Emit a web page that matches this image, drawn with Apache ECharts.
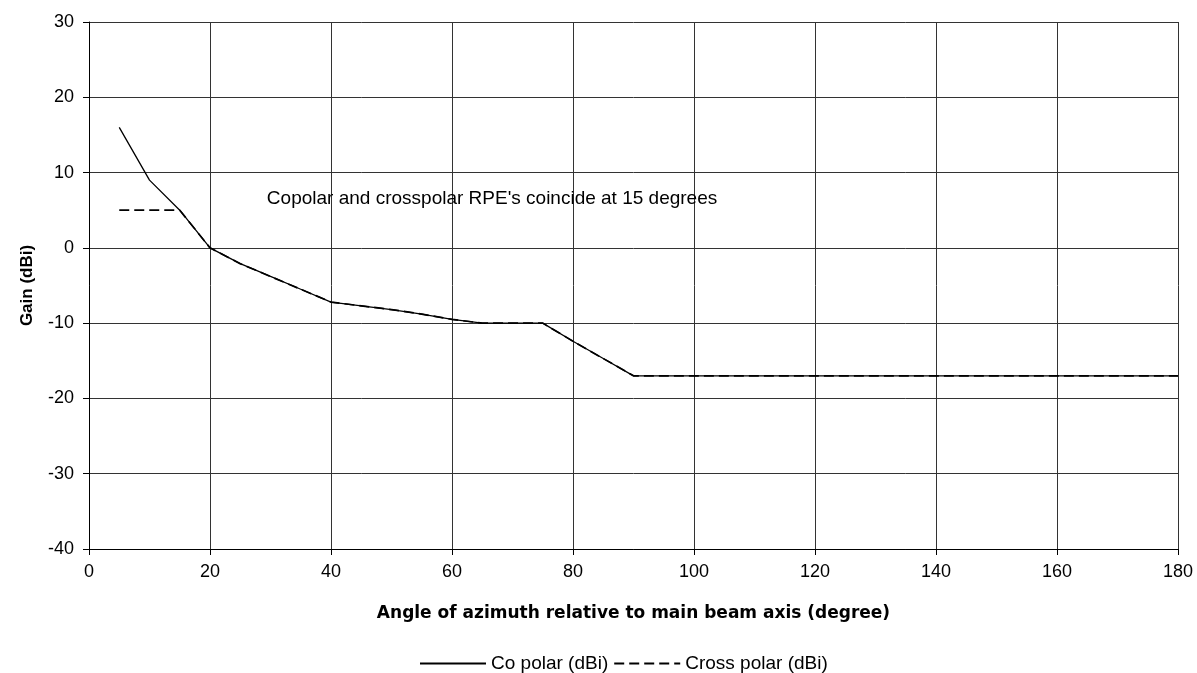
<!DOCTYPE html>
<html><head><meta charset="utf-8">
<script src="https://cdn.jsdelivr.net/npm/echarts@6/dist/echarts.min.js"></script>
<style>html,body{margin:0;padding:0;background:#fff}#c{width:1197px;height:673px}</style>
</head><body><div id="c"></div>
<script>
const angles   = [5, 10, 15, 20, 25, 30, 35, 40, 45, 50, 55, 60, 65, 70, 75, 80, 85, 90, 100, 120, 140, 160, 180];
const coPolar  = [16, 9, 5, 0, -2.1, -3.8, -5.5, -7.2, -7.7, -8.2, -8.8, -9.5, -10, -10, -10, -12.4, -14.7, -17, -17, -17, -17, -17, -17];
const crossAngles = [5, 15, 20, 25, 30, 35, 40, 45, 50, 55, 60, 65, 70, 75, 80, 85, 90, 100, 120, 140, 160, 180];
const crossPolar  = [5, 5, 0, -2.1, -3.8, -5.5, -7.2, -7.7, -8.2, -8.8, -9.5, -10, -10, -10, -12.4, -14.7, -17, -17, -17, -17, -17, -17];
const xTicks = [0, 20, 40, 60, 80, 100, 120, 140, 160, 180];
const yTicks = [-40, -30, -20, -10, 0, 10, 20, 30];
const annotation = "Copolar and crosspolar RPE's coincide at 15 degrees";
const annotationAt = [29.4, 6.5];

const font = 'Liberation Sans, Arial, sans-serif';
const chart = echarts.init(document.getElementById('c'), null, {renderer: 'canvas'});
chart.setOption({
  animation: false,
  backgroundColor: '#fff',
  grid: {left: 89, right: 19, top: 22, bottom: 124, containLabel: false, outerBoundsMode: 'none'},
  xAxis: {
    type: 'value', min: xTicks[0], max: xTicks[xTicks.length - 1], interval: 20,
    name: 'Angle of azimuth relative to main beam axis (degree)',
    nameLocation: 'middle', nameGap: 56,
    nameTextStyle: {fontFamily: 'DejaVu Sans, sans-serif', fontWeight: 'bold', fontSize: 17, color: '#000'},
    axisLine: {show: true, onZero: false, lineStyle: {color: '#000', width: 1}},
    axisTick: {show: true, inside: false, length: 6, lineStyle: {color: '#000'}},
    axisLabel: {fontFamily: font, fontSize: 18, color: '#000', margin: 14},
    splitLine: {show: true, lineStyle: {color: '#333', width: 1}}
  },
  yAxis: {
    type: 'value', min: yTicks[0], max: yTicks[yTicks.length - 1], interval: 10,
    name: 'Gain (dBi)', nameLocation: 'middle', nameGap: 53,
    nameTextStyle: {fontFamily: font, fontWeight: 'bold', fontSize: 17, color: '#000'},
    axisLine: {show: true, lineStyle: {color: '#000', width: 1}},
    axisTick: {show: true, inside: false, length: 6, lineStyle: {color: '#000'}},
    axisLabel: {fontFamily: font, fontSize: 18, color: '#000', margin: 15},
    splitLine: {show: true, lineStyle: {color: '#333', width: 1}}
  },
  legend: {
    top: 649, left: 414, itemWidth: 66, itemHeight: 10, itemGap: 5,
    itemStyle: {opacity: 0},
    textStyle: {fontFamily: font, fontSize: 19, color: '#000'},
    data: ['Co polar (dBi)', 'Cross polar (dBi)']
  },
  series: [
    {
      name: 'Co polar (dBi)', type: 'line', symbol: 'none', z: 3,
      data: angles.map((a, i) => [a, coPolar[i]]),
      lineStyle: {color: '#000', width: 1.3, type: 'solid'},
      itemStyle: {color: '#000'},
      markPoint: {
        symbol: 'rect', symbolSize: 0,
        data: [{coord: annotationAt, value: annotation}],
        label: {show: true, formatter: annotation, position: 'right', distance: 0,
          fontFamily: font, fontSize: 19, color: '#000'}
      }
    },
    {
      name: 'Cross polar (dBi)', type: 'line', symbol: 'none', z: 4,
      data: crossAngles.map((a, i) => [a, crossPolar[i]]),
      lineStyle: {color: '#000', width: 1.7, type: [10, 5]},
      itemStyle: {color: '#000'}
    }
  ]
});
</script></body></html>
